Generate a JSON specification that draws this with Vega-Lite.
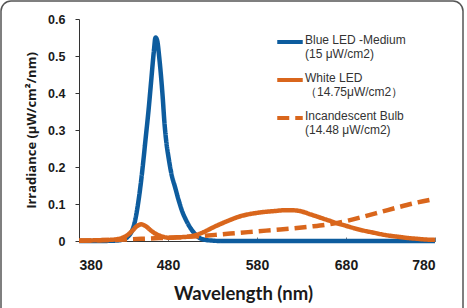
{
  "$schema": "https://vega.github.io/schema/vega-lite/v6.json",
  "width": 356,
  "height": 222,
  "autosize": {"type": "none"},
  "padding": {"left": 79, "top": 19, "right": 32, "bottom": 67},
  "background": "white",
  "config": {"view": {"stroke": null}, "font": "Liberation Sans"},
  "datasets": {
    "spectra": [
      {"wl": 380, "irr": 0, "s": "a"},
      {"wl": 400, "irr": 0, "s": "a"},
      {"wl": 420, "irr": 0.001, "s": "a"},
      {"wl": 430, "irr": 0.004, "s": "a"},
      {"wl": 435, "irr": 0.012, "s": "a"},
      {"wl": 440, "irr": 0.03, "s": "a"},
      {"wl": 443, "irr": 0.055, "s": "a"},
      {"wl": 446, "irr": 0.095, "s": "a"},
      {"wl": 449, "irr": 0.147, "s": "a"},
      {"wl": 452, "irr": 0.21, "s": "a"},
      {"wl": 455, "irr": 0.28, "s": "a"},
      {"wl": 458, "irr": 0.35, "s": "a"},
      {"wl": 461, "irr": 0.43, "s": "a"},
      {"wl": 464, "irr": 0.51, "s": "a"},
      {"wl": 466, "irr": 0.55, "s": "a"},
      {"wl": 468, "irr": 0.54, "s": "a"},
      {"wl": 470, "irr": 0.5, "s": "a"},
      {"wl": 472, "irr": 0.45, "s": "a"},
      {"wl": 474, "irr": 0.39, "s": "a"},
      {"wl": 476, "irr": 0.32, "s": "a"},
      {"wl": 478, "irr": 0.27, "s": "a"},
      {"wl": 481, "irr": 0.22, "s": "a"},
      {"wl": 484, "irr": 0.18, "s": "a"},
      {"wl": 488, "irr": 0.145, "s": "a"},
      {"wl": 492, "irr": 0.11, "s": "a"},
      {"wl": 496, "irr": 0.08, "s": "a"},
      {"wl": 500, "irr": 0.058, "s": "a"},
      {"wl": 505, "irr": 0.036, "s": "a"},
      {"wl": 510, "irr": 0.02, "s": "a"},
      {"wl": 515, "irr": 0.009, "s": "a"},
      {"wl": 520, "irr": 0.004, "s": "a"},
      {"wl": 530, "irr": 0.001, "s": "a"},
      {"wl": 540, "irr": 0, "s": "a"},
      {"wl": 780, "irr": 0, "s": "a"},

      {"wl": 380, "irr": 0.001, "s": "b"},
      {"wl": 400, "irr": 0.002, "s": "b"},
      {"wl": 420, "irr": 0.004, "s": "b"},
      {"wl": 430, "irr": 0.01, "s": "b"},
      {"wl": 435, "irr": 0.017, "s": "b"},
      {"wl": 440, "irr": 0.028, "s": "b"},
      {"wl": 445, "irr": 0.04, "s": "b"},
      {"wl": 450, "irr": 0.045, "s": "b"},
      {"wl": 455, "irr": 0.04, "s": "b"},
      {"wl": 460, "irr": 0.03, "s": "b"},
      {"wl": 465, "irr": 0.021, "s": "b"},
      {"wl": 470, "irr": 0.015, "s": "b"},
      {"wl": 475, "irr": 0.011, "s": "b"},
      {"wl": 480, "irr": 0.009, "s": "b"},
      {"wl": 485, "irr": 0.009, "s": "b"},
      {"wl": 490, "irr": 0.01, "s": "b"},
      {"wl": 500, "irr": 0.011, "s": "b"},
      {"wl": 510, "irr": 0.015, "s": "b"},
      {"wl": 520, "irr": 0.024, "s": "b"},
      {"wl": 530, "irr": 0.036, "s": "b"},
      {"wl": 540, "irr": 0.047, "s": "b"},
      {"wl": 550, "irr": 0.057, "s": "b"},
      {"wl": 560, "irr": 0.066, "s": "b"},
      {"wl": 570, "irr": 0.072, "s": "b"},
      {"wl": 580, "irr": 0.076, "s": "b"},
      {"wl": 590, "irr": 0.079, "s": "b"},
      {"wl": 600, "irr": 0.081, "s": "b"},
      {"wl": 610, "irr": 0.083, "s": "b"},
      {"wl": 620, "irr": 0.083, "s": "b"},
      {"wl": 630, "irr": 0.08, "s": "b"},
      {"wl": 640, "irr": 0.072, "s": "b"},
      {"wl": 650, "irr": 0.064, "s": "b"},
      {"wl": 660, "irr": 0.056, "s": "b"},
      {"wl": 670, "irr": 0.048, "s": "b"},
      {"wl": 680, "irr": 0.041, "s": "b"},
      {"wl": 690, "irr": 0.034, "s": "b"},
      {"wl": 700, "irr": 0.028, "s": "b"},
      {"wl": 710, "irr": 0.023, "s": "b"},
      {"wl": 720, "irr": 0.018, "s": "b"},
      {"wl": 730, "irr": 0.014, "s": "b"},
      {"wl": 740, "irr": 0.011, "s": "b"},
      {"wl": 750, "irr": 0.008, "s": "b"},
      {"wl": 760, "irr": 0.006, "s": "b"},
      {"wl": 770, "irr": 0.004, "s": "b"},
      {"wl": 780, "irr": 0.003, "s": "b"},

      {"wl": 380, "irr": 0.001, "s": "c"},
      {"wl": 400, "irr": 0.002, "s": "c"},
      {"wl": 420, "irr": 0.003, "s": "c"},
      {"wl": 440, "irr": 0.005, "s": "c"},
      {"wl": 460, "irr": 0.007, "s": "c"},
      {"wl": 480, "irr": 0.009, "s": "c"},
      {"wl": 500, "irr": 0.011, "s": "c"},
      {"wl": 520, "irr": 0.014, "s": "c"},
      {"wl": 540, "irr": 0.018, "s": "c"},
      {"wl": 560, "irr": 0.022, "s": "c"},
      {"wl": 580, "irr": 0.026, "s": "c"},
      {"wl": 600, "irr": 0.03, "s": "c"},
      {"wl": 620, "irr": 0.034, "s": "c"},
      {"wl": 640, "irr": 0.039, "s": "c"},
      {"wl": 660, "irr": 0.045, "s": "c"},
      {"wl": 680, "irr": 0.054, "s": "c"},
      {"wl": 700, "irr": 0.066, "s": "c"},
      {"wl": 720, "irr": 0.079, "s": "c"},
      {"wl": 740, "irr": 0.092, "s": "c"},
      {"wl": 760, "irr": 0.104, "s": "c"},
      {"wl": 780, "irr": 0.114, "s": "c"}
    ]
  },
  "layer": [
    {
      "description": "rounded frame around the figure",
      "data": {"values": [{}]},
      "mark": {"type": "rect", "filled": false, "stroke": "#555555", "strokeWidth": 1.5, "cornerRadius": 10},
      "encoding": {
        "x": {"value": -78},
        "x2": {"value": 384},
        "y": {"value": -18},
        "y2": {"value": 300}
      }
    },
    {
      "data": {"name": "spectra"},
      "mark": {"type": "line", "interpolate": "monotone", "strokeWidth": 4.5},
      "encoding": {
        "x": {
          "field": "wl",
          "type": "quantitative",
          "scale": {"domain": [380, 780], "nice": false, "zero": false},
          "axis": {
            "values": [380, 480, 580, 680, 780],
            "title": "Wavelength (nm)",
            "titleFont": "Lato",
            "titleFontSize": 18.5,
            "titleFontWeight": "bold",
            "titleColor": "#1a1a1a",
            "titleX": 164,
            "titleAlign": "center",
            "titlePadding": 12,
            "labelFont": "Liberation Sans",
            "labelFontSize": 14,
            "labelFontWeight": "bold",
            "labelColor": "#1a1a1a",
            "labelPadding": 21,
            "tickSize": -4,
            "tickColor": "#777777",
            "domainColor": "#333333",
            "grid": false
          }
        },
        "y": {
          "field": "irr",
          "type": "quantitative",
          "scale": {"domain": [0, 0.6], "nice": false},
          "axis": {
            "values": [0, 0.1, 0.2, 0.3, 0.4, 0.5, 0.6],
            "labelExpr": "datum.value == 0 ? '0' : format(datum.value, '.1f')",
            "title": "Irradiance (μW/cm²/nm)",
            "titleFont": "Open Sans",
            "titleFontSize": 13,
            "titleFontWeight": "bold",
            "titleColor": "#1a1a1a",
            "titlePadding": 9,
            "labelFont": "Liberation Sans",
            "labelFontSize": 12.5,
            "labelFontWeight": "bold",
            "labelColor": "#1a1a1a",
            "labelPadding": 10,
            "tickSize": 4,
            "tickColor": "#333333",
            "domainColor": "#333333",
            "grid": false
          }
        },
        "color": {
          "field": "s",
          "type": "nominal",
          "scale": {"domain": ["a", "b", "c"], "range": ["#0d5c9e", "#d9661c", "#d9661c"]},
          "legend": {
            "title": null,
            "orient": "none",
            "legendX": 196,
            "legendY": 8,
            "symbolType": "stroke",
            "symbolSize": 650,
            "symbolStrokeWidth": 4,
            "labelFont": "Liberation Sans",
            "labelFontSize": 12,
            "labelColor": "#333333",
            "labelOffset": 0,
            "labelBaseline": "top",
            "labelLimit": 200,
            "rowPadding": 5,
            "labelExpr": "datum.label == 'a' ? ['Blue LED -Medium', '(15 μW/cm2)'] : datum.label == 'b' ? ['White LED', '（14.75μW/cm2）'] : ['Incandescent Bulb', '(14.48 μW/cm2)']",
            "encode": {"labels": {"update": {"dy": {"value": -7}, "lineHeight": {"value": 14}}}}
          }
        },
        "strokeDash": {
          "field": "s",
          "type": "nominal",
          "scale": {"domain": ["a", "b", "c"], "range": [[1, 0], [1, 0], [12, 6]]}
        }
      }
    }
  ]
}
